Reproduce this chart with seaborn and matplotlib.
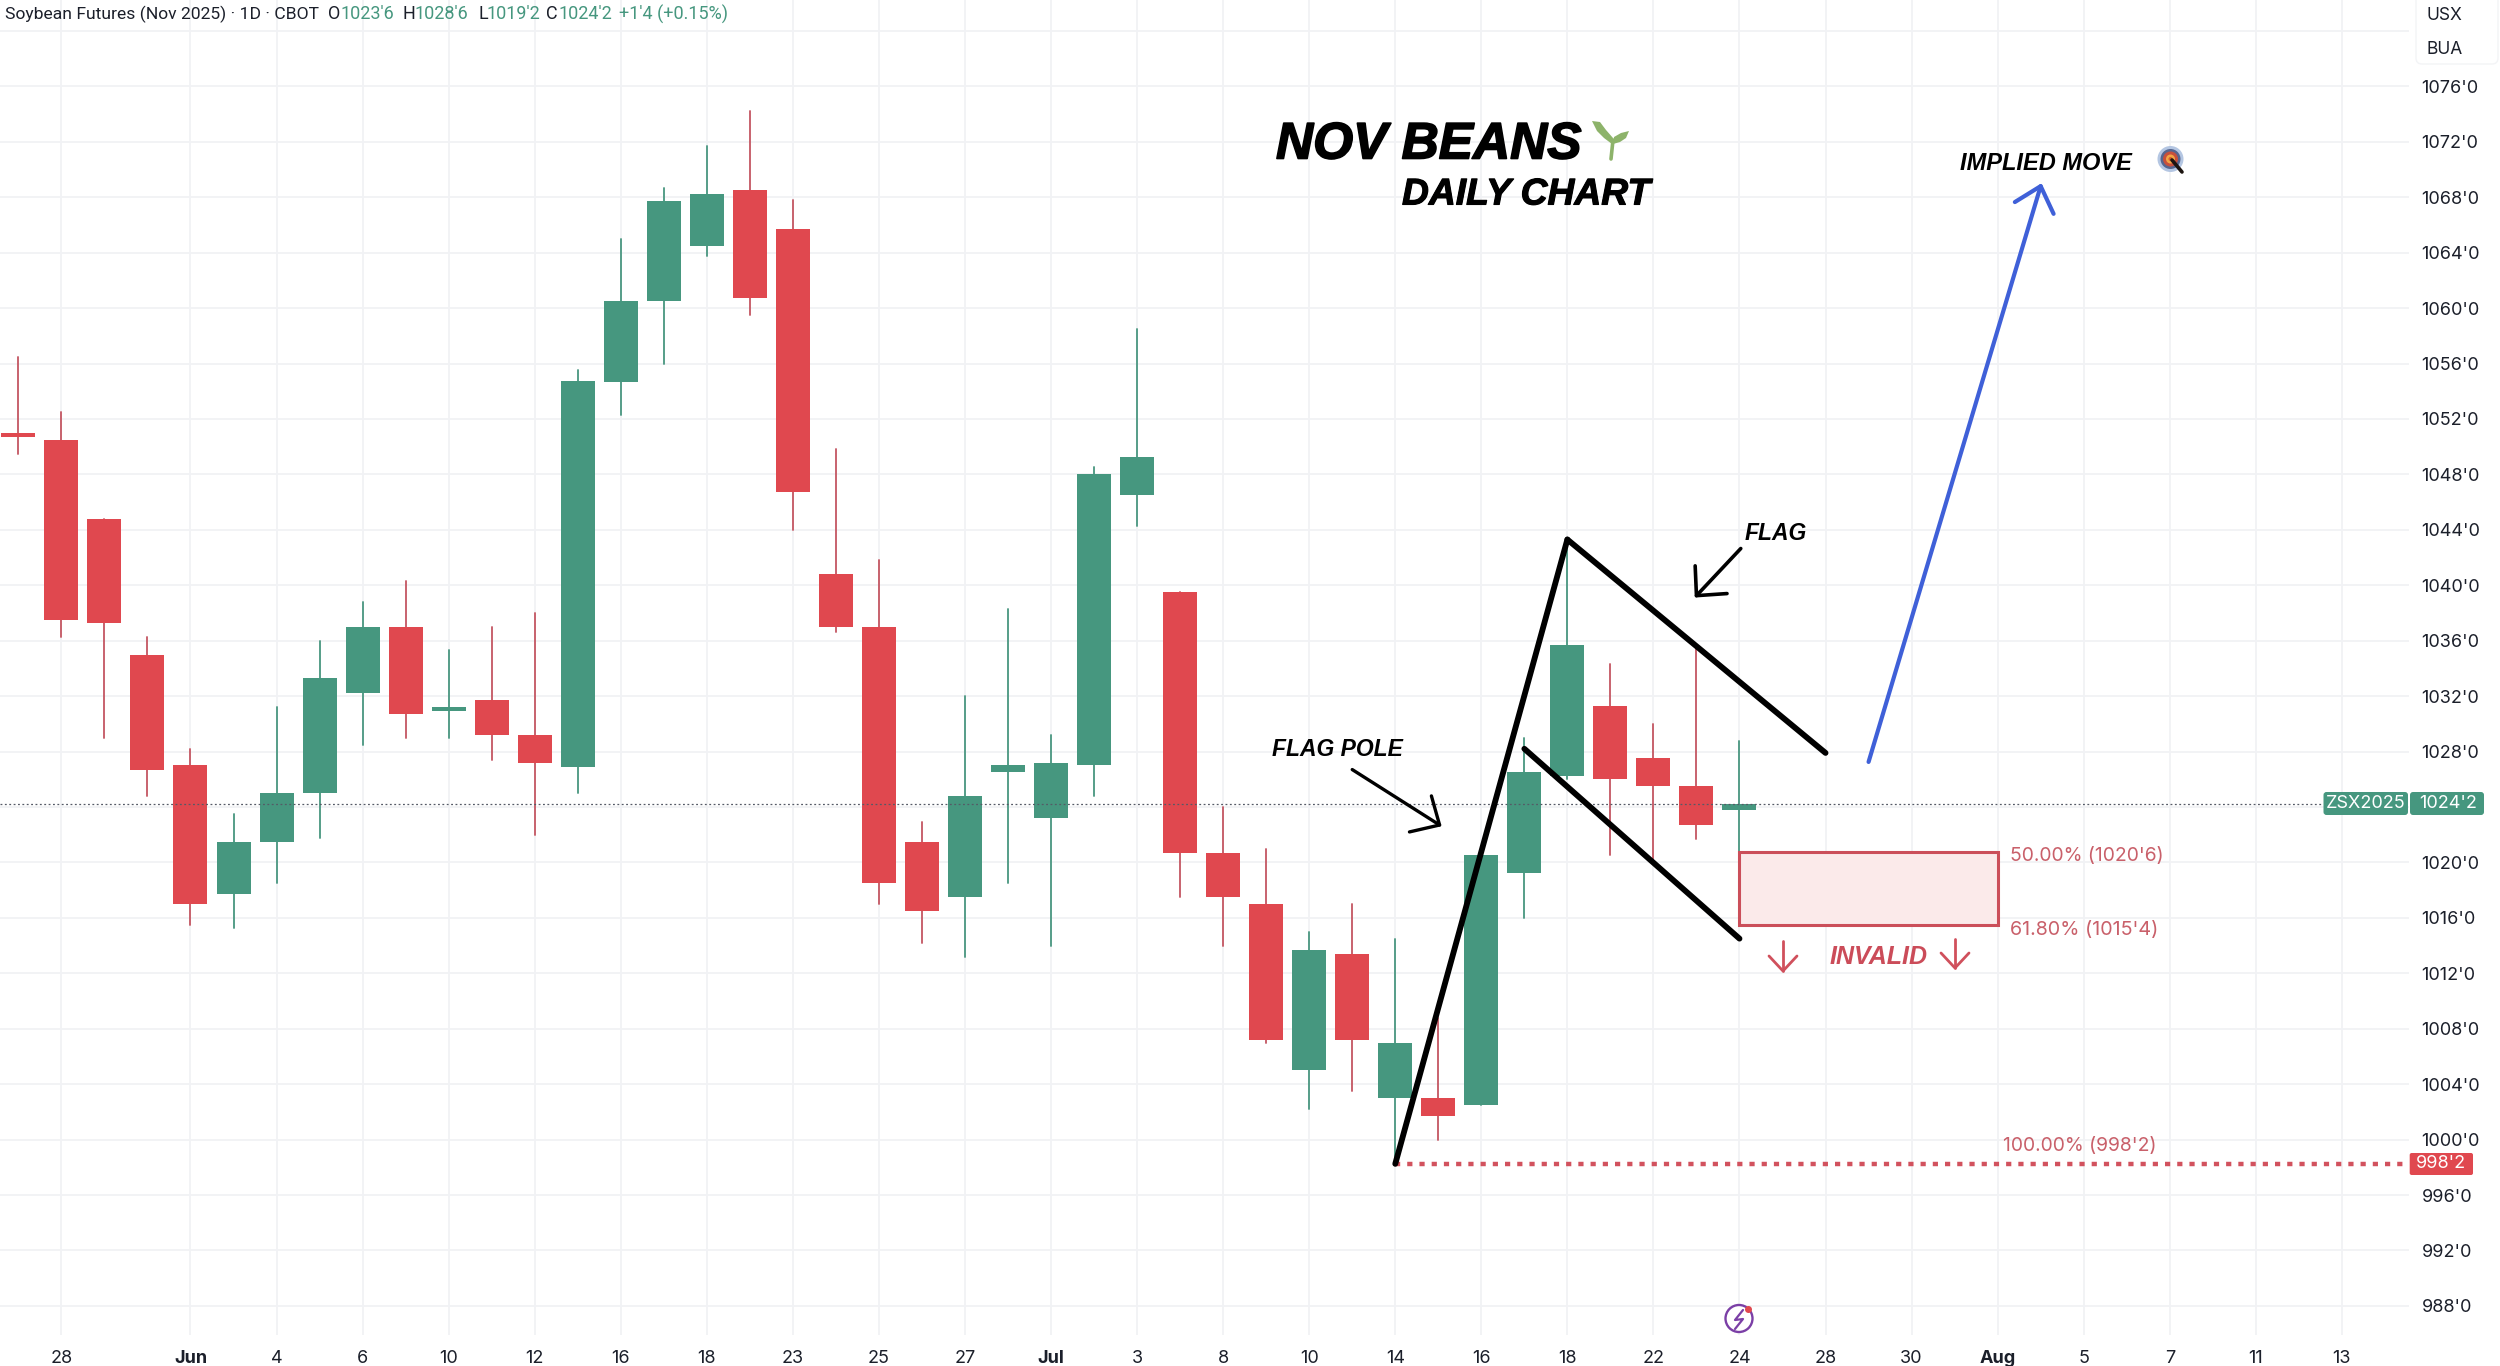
import matplotlib
matplotlib.use("Agg")
import numpy as np
import pandas as pd
import seaborn as sns
import matplotlib.pyplot as plt
import matplotlib.patheffects as pe
from matplotlib.lines import Line2D
from matplotlib.patches import Circle, FancyBboxPatch, Polygon, Rectangle
from matplotlib.transforms import Affine2D

# bar number -1 is 27 May, 0 is 28 May, 39 is 24 Jul
bars = list(range(-1, 40))
opens = [1051.0, 1050.5, 1044.8, 1035.0, 1027.0, 1017.7, 1021.45, 1025.0, 1032.2, 1037.0, 1030.9,
         1031.7, 1029.2, 1026.9, 1054.7, 1060.5, 1064.5, 1068.5, 1065.7, 1040.8, 1037.0,
         1021.45, 1017.5, 1026.5, 1023.2, 1027.0, 1046.5, 1039.5, 1020.7, 1017.0, 1005.0,
         1013.4, 1003.0, 1003.0, 1002.5, 1019.25, 1026.2, 1031.3, 1027.5, 1025.5, 1023.75]
highs = [1056.5, 1052.5, 1044.8, 1036.3, 1028.2, 1023.5, 1031.2, 1036.0, 1038.8, 1040.3, 1035.3,
         1037.0, 1038.0, 1055.5, 1065.0, 1068.7, 1071.7, 1074.2, 1067.8, 1049.8, 1041.8,
         1022.9, 1032.0, 1038.3, 1029.2, 1048.5, 1058.5, 1039.5, 1024.0, 1021.0, 1015.0,
         1017.0, 1014.5, 1008.8, 1020.5, 1029.0, 1043.4, 1034.3, 1030.0, 1035.5, 1028.75]
lows = [1049.5, 1036.3, 1029.0, 1024.8, 1015.5, 1015.3, 1018.5, 1021.75, 1028.5, 1029.0, 1029.0,
        1027.4, 1022.0, 1025.0, 1052.3, 1056.0, 1063.75, 1059.5, 1044.0, 1036.6, 1017.0,
        1014.2, 1013.2, 1018.5, 1014.0, 1024.8, 1044.3, 1017.5, 1014.0, 1007.0, 1002.2,
        1003.5, 998.4, 1000.0, 1002.5, 1016.0, 1026.0, 1020.5, 1020.0, 1021.7, 1019.25]
closes = [1050.7, 1037.5, 1037.25, 1026.7, 1017.0, 1021.45, 1025.0, 1033.3, 1037.0, 1030.7, 1031.2,
          1029.2, 1027.2, 1054.75, 1060.5, 1067.7, 1068.2, 1060.7, 1046.7, 1037.0, 1018.5,
          1016.5, 1024.8, 1027.0, 1027.2, 1048.0, 1049.25, 1020.7, 1017.5, 1007.2, 1013.7,
          1007.2, 1007.0, 1001.7, 1020.5, 1026.5, 1035.7, 1026.0, 1025.5, 1022.7, 1024.25]

date_slots = [0, 3, 5, 7, 9, 11, 13, 15, 17, 19, 21, 23, 25, 27, 29, 31, 33, 35, 37, 39, 41, 43, 45, 47, 49, 51, 53]
date_labels = ["28", "Jun", "4", "6", "10", "12", "16", "18", "23", "25", "27", "Jul", "3", "8", "10", "14",
               "16", "18", "22", "24", "28", "30", "Aug", "5", "7", "11", "13"]
price_ticks = list(range(988, 1084, 4))

last_price = 1024.25
fib_top = 1020.75
fib_bottom = 1015.5
fib_low = 998.25

# hand drawn lines, as (bar, price) pairs
pole = ([31, 35], [998.25, 1043.3])
flag_top = ([35, 41], [1043.3, 1027.9])
flag_bottom = ([34, 39], [1028.2, 1014.5])
flag_arrow = ([39.03, 38.0], [1042.65, 1039.25])
flag_head = ([37.97, 38.0, 38.71], [1041.4, 1039.25, 1039.4])
pole_arrow = ([30.0, 32.03], [1026.7, 1022.7])
pole_head = ([31.84, 32.03, 31.33], [1024.8, 1022.7, 1022.2])
blue_arrow = ([42.0, 46.0], [1027.25, 1068.8])
blue_head = ([45.4, 46.0, 46.3], [1067.65, 1068.8, 1066.8])

GREEN = "#46977f"
RED = "#e0484f"
WICK_GREEN = "#4f9a84"
WICK_RED = "#c65c68"
LABEL_RED = "#c9606a"
GRID = "#f1f2f5"
TEXT = "#1b1f2a"
NORMAL_FONT = ["Inter", "DejaVu Sans"]
BOLD_FONT = ["Liberation Sans", "DejaVu Sans"]

sns.set_theme(style="white")
plt.rcParams["font.family"] = NORMAL_FONT

df = pd.DataFrame({"bar": bars, "open": opens, "high": highs, "low": lows, "close": closes})
df["up"] = df["close"] > df["open"]
df["body_low"] = df[["open", "close"]].min(axis=1)
df["body"] = (df["open"] - df["close"]).abs()

fig = plt.figure(figsize=(25, 13.66), dpi=100, facecolor="white")
ax = fig.add_axes([0, 31 / 1366, 2409 / 2500, 1335 / 1366])

# pixel positions of the picture, top left is 0,0
PX = Affine2D().scale(1, -1).translate(0, 1366)


def px_text(x, y, s, **kws):
    kws.setdefault("va", "center")
    kws.setdefault("ha", "left")
    return fig.text(x, y, s, transform=PX, **kws)


def px_line(xs, ys, color, lw, z=8):
    fig.add_artist(Line2D(xs, ys, transform=PX, color=color, lw=lw, zorder=z,
                          solid_capstyle="round", solid_joinstyle="round"))


# wicks then bodies
wicks = df.melt(id_vars=["bar", "up"], value_vars=["low", "high"], value_name="price")
for up, color in [(True, WICK_GREEN), (False, WICK_RED)]:
    sns.lineplot(data=wicks[wicks["up"] == up], x="bar", y="price", units="bar", estimator=None,
                 color=color, linewidth=1.35, legend=False, ax=ax, zorder=2)
for up, color in [(True, GREEN), (False, RED)]:
    part = df[df["up"] == up].sort_values("bar")
    sns.barplot(data=part, x="bar", y="body", bottom=part["body_low"].to_numpy(), native_scale=True,
                color=color, saturation=1, width=0.79, errorbar=None, linewidth=0, ax=ax, zorder=3)

ax.set_xlim(-1.427, 54.56)
ax.set_ylim(985.9, 1082.23)
ax.set_xlabel("")
ax.set_ylabel("")

ax.set_xticks(date_slots)
ax.set_xticklabels(date_labels)
for lab in ax.get_xticklabels():
    lab.set_fontsize(13)
    lab.set_color(TEXT)
    if lab.get_text() in ["Jun", "Jul", "Aug"]:
        lab.set_fontweight("bold")

ax.yaxis.tick_right()
ax.set_yticks(price_ticks)
ax.set_yticklabels(["" if p in (1024, 1080) else f"{p}'0" for p in price_ticks], fontsize=13, color=TEXT)
ax.tick_params(axis="both", length=0)
ax.tick_params(axis="x", pad=11)
ax.tick_params(axis="y", pad=9)
ax.grid(True, color=GRID, lw=1.3)
ax.set_axisbelow(True)
sns.despine(ax=ax, left=True, right=True, top=True, bottom=True)

# last price and swing low lines
ax.axhline(last_price, xmax=2323 / 2409, color="#555a66", lw=0.9, ls=(0, (1.5, 2)), zorder=4)
ax.plot([31, 54.56], [fib_low, fib_low], color="#d2525e", lw=3.2, ls=(0, (1.17, 1.58)),
        dash_capstyle="butt", zorder=4)

ax.add_patch(Rectangle((39, fib_bottom), 6, fib_top - fib_bottom, facecolor="#fbeaea",
                       edgecolor="#cb4f5a", lw=2.2, zorder=5))

for xs, ys, color, lw in [(*pole, "black", 4.2), (*flag_top, "black", 4.2), (*flag_bottom, "black", 4.2),
                          (*flag_arrow, "black", 2.6), (*flag_head, "black", 2.6),
                          (*pole_arrow, "black", 2.4), (*pole_head, "black", 2.4),
                          (*blue_arrow, "#3f60d8", 3), (*blue_head, "#3f60d8", 3)]:
    ax.plot(xs, ys, color=color, lw=lw, solid_capstyle="round", solid_joinstyle="round", zorder=6)

# header line
header_font = ["Roboto", "DejaVu Sans"]
px_text(5, 14, "Soybean Futures (Nov 2025) · 1D · CBOT", color=TEXT, family=header_font, fontsize=12.6)
for x, s, color in [(328, "O", TEXT), (341, "1023'6", GREEN), (403, "H", TEXT), (415, "1028'6", GREEN),
                    (478, "L", TEXT), (486, "1019'2", GREEN), (546, "C", TEXT), (558, "1024'2", GREEN),
                    (619, "+1'4 (+0.15%)", GREEN)]:
    px_text(x, 14, s, color=color, family=header_font, fontsize=13)

# unit box, top right
fig.add_artist(FancyBboxPatch((2416, -10), 82, 74, boxstyle="round,pad=0,rounding_size=6", transform=PX,
                              facecolor="white", edgecolor="#f3f4f6", lw=1))
px_text(2426, 15, "USX", fontsize=12.5, color=TEXT)
px_text(2426, 49, "BUA", fontsize=12.5, color=TEXT)

# price tags
fig.add_artist(FancyBboxPatch((2323.5, 792), 84.5, 23, boxstyle="round,pad=0,rounding_size=3", transform=PX,
                              facecolor=GREEN, edgecolor="none", zorder=7))
fig.add_artist(FancyBboxPatch((2410, 792), 74, 23, boxstyle="round,pad=0,rounding_size=3", transform=PX,
                              facecolor=GREEN, edgecolor="none", zorder=7))
px_text(2366, 803.5, "ZSX2025", fontsize=13, color="white", ha="center", zorder=8)
px_text(2448, 803.5, "1024'2", fontsize=13, color="white", ha="center", zorder=8)
fig.add_artist(FancyBboxPatch((2409.7, 1153), 63.3, 22, boxstyle="round,pad=0,rounding_size=2", transform=PX,
                              facecolor=RED, edgecolor="none", zorder=7))
px_text(2441, 1164, "998'2", fontsize=13, color="white", ha="center", zorder=8)

# fib labels
px_text(2010, 856, "50.00% (1020'6)", fontsize=13.9, color=LABEL_RED)
px_text(2010, 929.5, "61.80% (1015'4)", fontsize=14.2, color=LABEL_RED)
px_text(2003, 1146, "100.00% (998'2)", fontsize=13.9, color=LABEL_RED)

# annotation text
bold = dict(family=BOLD_FONT, fontweight="bold", fontstyle="italic")
title = px_text(1276, 145, "NOV BEANS", fontsize=37, color="black", **bold)
title.set_path_effects([pe.withStroke(linewidth=1.2, foreground="black")])
sub = px_text(1402, 195, "DAILY CHART", fontsize=26.8, color="black", **bold)
sub.set_path_effects([pe.withStroke(linewidth=0.8, foreground="black")])
px_text(1960, 163, "IMPLIED MOVE", fontsize=17, color="black", **bold)
px_text(1272, 749, "FLAG POLE", fontsize=16.5, color="black", **bold)
px_text(1745, 534, "FLAG", fontsize=16.5, color="black", **bold)
px_text(1830, 957, "INVALID", fontsize=18, color="#cb4c59", **bold)

# red arrows next to INVALID
for x, y0, y1 in [(1783, 941, 971), (1955, 939, 968)]:
    px_line([x, x], [y0, y1], "#d0505c", 2)
    px_line([x - 14, x, x + 14], [y1 - 15, y1, y1 - 15], "#d0505c", 2)

# sprout next to the title
SPROUT = "#8db36a"
px_line([1611, 1613], [159, 140], SPROUT, 2.6)
fig.add_artist(Polygon([(1592, 121), (1600, 122), (1606, 130), (1613, 138), (1612, 144), (1604, 138), (1597, 131)],
                       transform=PX, facecolor=SPROUT, edgecolor="none", zorder=8))
fig.add_artist(Polygon([(1613, 144), (1614, 137), (1621, 133), (1629, 131), (1626, 138), (1620, 142)],
                       transform=PX, facecolor=SPROUT, edgecolor="none", zorder=8))

# target icon
for r, color in [(13, "#b4c6e2"), (10, "#56668f"), (7.5, "#c8503c"), (4.5, "#f2a544"), (2, "#d8602c")]:
    fig.add_artist(Circle((2170.5, 159), r, transform=PX, facecolor=color, edgecolor="none", zorder=7))
px_line([2172, 2182], [160, 172], "#1c1410", 2.6)

# bolt icon at the bottom
fig.add_artist(Circle((1739, 1318.5), 13.5, transform=PX, facecolor="white", edgecolor="#7b3fa6", lw=1.7, zorder=7))
fig.add_artist(Circle((1748.5, 1309.5), 3.5, transform=PX, facecolor="#e0484f", edgecolor="none", zorder=8))
px_line([1743, 1735, 1743, 1735], [1310, 1320, 1319, 1329], "#7b3fa6", 1.6)

fig.savefig("out.png", dpi=100)
